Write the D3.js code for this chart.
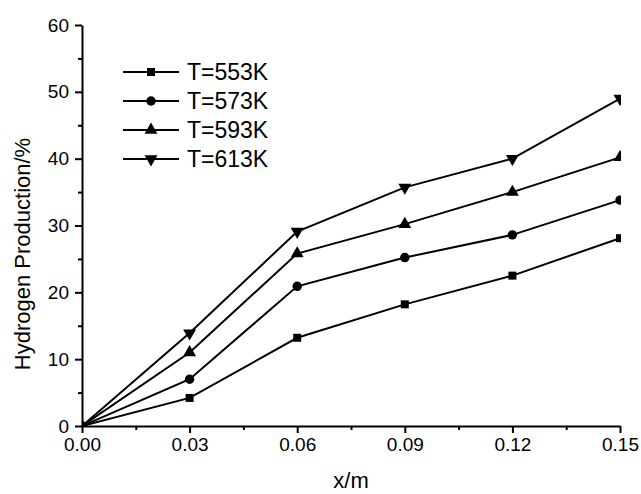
<!DOCTYPE html>
<html>
<head>
<meta charset="utf-8">
<script src="https://cdn.jsdelivr.net/npm/d3@7"></script>
<style>
  body { margin: 0; background: #fff; }
  svg { display: block; font-family: Arial, "Liberation Sans", sans-serif; }
</style>
</head>
<body>
<div id="chart"></div>
<script>
const WIDTH = 641;
const HEIGHT = 494;
const MARGIN = {left: 82, right: 20, top: 25, bottom: 68};

// data
const X_VALUES = [0, 0.03, 0.06, 0.09, 0.12, 0.15];
const SERIES_NAMES = ["T=553K", "T=573K", "T=593K", "T=613K"];
const T553 = [0, 4.2, 13.2, 18.2, 22.5, 28.1];
const T573 = [0, 7.0, 20.9, 25.2, 28.6, 33.8];
const T593 = [0, 11.0, 25.8, 30.2, 35.0, 40.2];
const T613 = [0, 13.9, 29.1, 35.7, 40.0, 49.0];
const SERIES = [T553, T573, T593, T613];
const SYMBOLS = [d3.symbolSquare, d3.symbolCircle, d3.symbolTriangle, d3.symbolTriangle];
const SYMBOL_SIZES = [64, 70, 72, 72];
const SYMBOL_ROT = [0, 0, 0, 180];
const X_TICKS = [0, 0.03, 0.06, 0.09, 0.12, 0.15];
const Y_TICKS = [0, 10, 20, 30, 40, 50, 60];

const svg = d3.select("#chart").append("svg")
  .attr("width", WIDTH)
  .attr("height", HEIGHT);

const xScale = d3.scaleLinear()
  .domain([0, 0.15])
  .range([MARGIN.left, WIDTH - MARGIN.right - 1]);
const yScale = d3.scaleLinear()
  .domain([0, 60])
  .range([HEIGHT - MARGIN.bottom, MARGIN.top]);

// clip for the plot area (markers at the edges are cut)
svg.append("clipPath").attr("id", "plotclip")
  .append("rect")
  .attr("x", xScale(0))
  .attr("y", yScale(60) - 10)
  .attr("width", xScale(0.15) - xScale(0) + 1)
  .attr("height", yScale(0) - yScale(60) + 10);

// minor ticks
const xMinor = X_TICKS.slice(0, -1).map((d, i) => (d + X_TICKS[i + 1]) / 2);
const yMinor = Y_TICKS.slice(0, -1).map((d, i) => (d + Y_TICKS[i + 1]) / 2);

svg.append("g")
  .attr("transform", "translate(0," + yScale(0) + ")")
  .call(d3.axisBottom(xScale).tickValues(xMinor).tickSize(4).tickFormat(""))
  .call(g => g.select(".domain").remove())
  .selectAll("line").attr("stroke-width", 2);
svg.append("g")
  .attr("transform", "translate(" + xScale(0) + ",0)")
  .call(d3.axisLeft(yScale).tickValues(yMinor).tickSize(4).tickFormat(""))
  .call(g => g.select(".domain").remove())
  .selectAll("line").attr("stroke-width", 2);

// X axis
const xAxis = svg.append("g")
  .attr("transform", "translate(0," + yScale(0) + ")")
  .call(d3.axisBottom(xScale)
    .tickValues(X_TICKS)
    .tickSize(7)
    .tickSizeOuter(0)
    .tickPadding(5)
    .tickFormat(d3.format(".2f")));
xAxis.select(".domain").attr("stroke-width", 2);
xAxis.selectAll("line").attr("stroke-width", 2);
xAxis.selectAll("text").attr("font-size", "19px").attr("fill", "#000");

// Y axis
const yAxis = svg.append("g")
  .attr("transform", "translate(" + xScale(0) + ",0)")
  .call(d3.axisLeft(yScale)
    .tickValues(Y_TICKS)
    .tickSize(7)
    .tickSizeOuter(0)
    .tickPadding(6)
    .tickFormat(d3.format("d")));
yAxis.select(".domain").attr("stroke-width", 2);
yAxis.selectAll("line").attr("stroke-width", 2);
yAxis.selectAll("text").attr("font-size", "19px").attr("fill", "#000");

// axis titles
svg.append("text")
  .attr("x", (xScale(0) + xScale(0.15)) / 2)
  .attr("y", 488)
  .attr("text-anchor", "middle")
  .attr("font-size", "22px")
  .text("x/m");
svg.append("text")
  .attr("transform", "translate(30," + 254 + ") rotate(-90)")
  .attr("text-anchor", "middle")
  .attr("font-size", "22px")
  .text("Hydrogen Production/%");

// lines and markers
const line = d3.line()
  .x((d, i) => xScale(X_VALUES[i]))
  .y(d => yScale(d));

const plot = svg.append("g").attr("clip-path", "url(#plotclip)");

SERIES.forEach((values, s) => {
  plot.append("path")
    .datum(values)
    .attr("fill", "none")
    .attr("stroke", "#000")
    .attr("stroke-width", 2)
    .attr("d", line);

  plot.selectAll(".m" + s)
    .data(values)
    .enter()
    .append("path")
    .attr("class", "m" + s)
    .attr("d", d3.symbol().type(SYMBOLS[s]).size(SYMBOL_SIZES[s]))
    .attr("transform", (d, i) => "translate(" + xScale(X_VALUES[i]) + "," + yScale(d) + ") rotate(" + SYMBOL_ROT[s] + ")")
    .attr("fill", "#000");
});

// legend
const legend = svg.append("g").attr("id", "legend");
const legendY = [72, 101, 130, 159];
SERIES_NAMES.forEach((name, s) => {
  const g = legend.append("g").attr("transform", "translate(0," + legendY[s] + ")");
  g.append("line")
    .attr("x1", 123).attr("x2", 179)
    .attr("y1", 0).attr("y2", 0)
    .attr("stroke", "#000")
    .attr("stroke-width", 2);
  g.append("path")
    .attr("d", d3.symbol().type(SYMBOLS[s]).size(SYMBOL_SIZES[s]))
    .attr("transform", "translate(151,0) rotate(" + SYMBOL_ROT[s] + ")")
    .attr("fill", "#000");
  g.append("text")
    .attr("x", 187)
    .attr("y", 8)
    .attr("font-size", "23px")
    .text(name);
});
</script>
</body>
</html>
